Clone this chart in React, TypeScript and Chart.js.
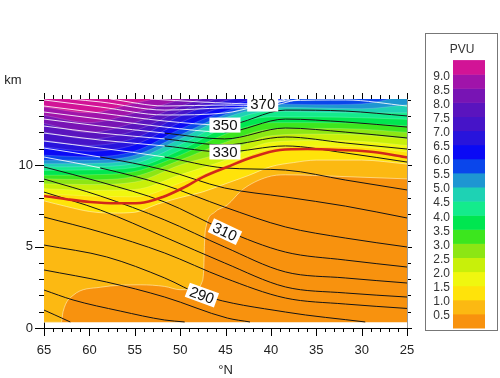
import React, { useEffect, useRef } from 'react';
import { Chart, registerables } from 'chart.js';

Chart.register(...registerables);

const FONT = '"Liberation Sans", Arial, Helvetica, sans-serif';

// ---- axes ----
const xTickValues = [65, 60, 55, 50, 45, 40, 35, 30, 25];
const yTickValues = [0, 5, 10];
const groundKm = 0.35;

// ---- PV colour scale ----
const pvLevels = [0.5, 1.0, 1.5, 2.0, 2.5, 3.0, 3.5, 4.0, 4.5, 5.0, 5.5, 6.0, 6.5, 7.0, 7.5, 8.0, 8.5, 9.0];
const bandColors = [
  '#f8920e', '#fcb912', '#ffe30a', '#f0f70f', '#c8f00a', '#8ce614', '#3ce61e', '#00e650',
  '#14eb8c', '#1ed2b4', '#1e96d2', '#0a46eb', '#0a0af5', '#2814dc', '#4614c8', '#5a14be',
  '#7814b4', '#a014aa', '#d21496',
];

// ---- PV contours (km) ----
const latitudes = [65, 60, 55, 50, 45, 40, 35, 30, 25];
const pv05Lat = [65, 63.1, 62.9, 61.8, 58.8, 54.4, 51.7, 50, 48.5, 47.6, 47.4, 47.35, 47.3, 47.1, 46.2, 44.8, 43.1, 40.4, 38.4, 32.4, 25];
const pv05Km = [0.35, 0.35, 1.0, 2.0, 2.5, 2.65, 2.55, 2.35, 2.35, 2.8, 3.6, 4.5, 5.4, 6.3, 7.1, 7.55, 8.5, 9.26, 9.4, 9.3, 9.15];
const pv10Lat = [65, 62.5, 60, 57.5, 55, 52.5, 50, 47.5, 45, 42.5, 40, 37.5, 35, 30, 25];
const pv10Km = [7.8, 7.45, 7.15, 7.05, 7.1, 7.6, 8.0, 8.35, 8.85, 9.35, 9.9, 10.15, 10.3, 10.3, 10.06];
const pv15 = [8.24, 8.1, 8.05, 8.9, 10.0, 11.0, 11.15, 11.1, 10.8];
const pv20 = [8.55, 8.45, 8.5, 9.4, 10.3, 11.4, 11.5, 11.45, 11.2];
const pv25 = [8.85, 8.8, 8.95, 10.0, 10.8, 11.8, 11.9, 11.85, 11.6];
const pv30 = [9.16, 9.1, 9.3, 10.3, 11.4, 12.2, 12.25, 12.2, 12.0];
const pv35 = [9.37, 9.4, 9.6, 10.6, 11.9, 12.6, 12.6, 12.55, 12.4];
const pv40 = [9.67, 9.7, 9.85, 10.9, 12.3, 12.95, 12.95, 12.9, 12.8];
const pv45 = [9.88, 9.9, 10.1, 11.25, 12.6, 13.3, 13.25, 13.2, 13.2];
const pv50 = [10.08, 10.1, 10.35, 11.6, 12.9, 13.55, 13.5, 13.45, 13.7];
const pv55 = [10.29, 10.3, 10.6, 11.84, 13.1, 13.75, 13.7, 13.75, 14.3];
const pv60 = [10.6, 10.5, 10.85, 12.2, 13.3, 13.95, 14.15, 14.25, 14.6];
const pv65 = [11.1, 10.85, 11.25, 12.6, 13.6, 14.2, 14.5, 14.6, 14.9];
const pv70 = [11.51, 11.2, 11.65, 13.0, 13.95, 14.4, 14.8, 14.9, 15.2];
const pv75 = [12.02, 11.6, 12.1, 13.3, 14.2, 14.7, 15.0, 15.1, 15.4];
const pv80 = [12.55, 12.0, 12.6, 13.6, 14.5, 15.0, 15.2, 15.3, 15.6];
const pv85 = [13.05, 12.6, 13.2, 14.0, 14.8, 15.2, 15.4, 15.5, 15.8];
const pv90 = [13.56, 13.2, 13.8, 14.4, 15.0, 15.4, 15.6, 15.7, 16.0];

// ---- isentropes [lat, km] ----
const th275 = [[65, 1.1], [63.8, 0.8], [62.1, 0.37]];
const th280 = [[65, 2.33], [61.8, 1.72], [56.6, 1.04], [51.7, 0.49], [49.5, 0.37]];
const th285 = [[65, 3.56], [58.1, 2.82], [51.7, 1.9], [44.8, 0.61], [42.3, 0.37]];
const th290 = [[65, 5.09], [58.1, 4.36], [51.7, 3.07], [47.6, 2.02], [38.4, 0.98], [29.6, 0.37]];
const th295 = [[65, 6.81], [58.8, 5.89], [51.7, 4.6], [45.1, 3.07], [38.4, 1.84], [31.8, 1.47], [25, 1.2]];
const th300 = [[65, 8.34], [58.8, 7.24], [51.7, 5.58], [45.1, 3.99], [38.4, 2.52], [31.8, 2.15], [25, 1.9]];
const th305 = [[65, 9.14], [58.8, 8.1], [51.7, 6.63], [45.1, 4.97], [38.4, 3.44], [31.8, 3.07], [25, 2.76]];
const th310 = [[65, 9.88], [58.8, 8.96], [51.7, 7.73], [45.1, 6.01], [38.4, 4.66], [31.8, 4.17], [25, 3.74]];
const th315 = [[65, 10.49], [58.8, 9.82], [51.7, 8.77], [45.1, 7.42], [38.4, 6.2], [31.8, 5.52], [25, 4.97]];
const th320 = [[65, 11.04], [58.8, 10.49], [51.7, 9.69], [45.1, 8.59], [38.4, 8.04], [31.8, 7.48], [25, 6.75]];
const th325 = [[65, 11.47], [58.8, 11.04], [51.7, 10.49], [45.1, 9.82], [38.4, 9.69], [31.8, 9.08], [25, 8.47]];
const th330 = [[65, 11.96], [58.8, 11.53], [51.7, 11.17], [45.1, 10.8], [38.4, 11.17], [31.8, 10.74], [25, 10.18]];
const th335 = [[65, 12.39], [58.8, 11.96], [51.7, 11.6], [45.1, 11.23], [38.4, 11.72], [31.8, 11.35], [25, 10.98]];
const th340 = [[65, 12.82], [58.8, 12.39], [51.7, 11.96], [45.1, 11.6], [38.4, 12.27], [31.8, 12.02], [25, 11.66]];
const th345 = [[65, 13.25], [58.8, 12.82], [51.7, 12.33], [45.1, 12.02], [38.4, 12.82], [31.8, 12.64], [25, 12.33]];
const th350 = [[65, 13.62], [58.8, 13.19], [51.7, 12.7], [45.1, 12.45], [38.4, 13.37], [31.8, 13.31], [25, 13.01]];
const th355 = [[65, 13.99], [58.8, 13.56], [51.7, 13.07], [45.1, 13.19], [38.4, 13.93], [31.8, 13.99], [25, 13.62]];
const th360 = [[62.1, 14.05], [58.8, 13.87], [51.7, 13.37], [45.1, 13.5], [40.9, 13.56], [36.8, 14.05]];
const th365 = [[57.7, 14.05], [51.7, 13.62], [45.1, 13.68], [40.9, 13.65], [37.9, 14.05]];
const th370 = [[53.3, 14.05], [47.8, 13.87], [40.9, 13.74], [38.4, 14.05]];

// ---- tropopause (red) ----
const tropLat = [65, 62.5, 59.9, 57, 54.4, 51.9, 49.7, 47.5, 44.8, 42.0, 39.0, 36.0, 32.4, 28.7, 25];
const tropKm = [8.1, 7.9, 7.73, 7.65, 7.67, 8.04, 8.59, 9.26, 9.88, 10.49, 10.92, 10.98, 10.92, 10.8, 10.47];

// ---- contour labels ----
const labelText = ['370', '350', '330', '310', '290'];
const labelLat = [40.9, 45.06, 45.06, 45.06, 47.6];
const labelKm = [13.74, 12.45, 10.8, 5.91, 2.02];
const labelAngle = [0, 0, 0, 25, 20];

const toXY = (lats: number[], kms: number[]) => lats.map((x, i) => ({ x, y: kms[i] }));
const pairXY = (arr: number[][]) => arr.map(([x, y]) => ({ x, y }));

// height of the 5 PVU surface at a latitude (linear between read values)
const pv5At = (lat: number) => {
  for (let i = 0; i < latitudes.length - 1; i++) {
    const a = latitudes[i], b = latitudes[i + 1];
    if (lat <= a && lat >= b) {
      const t = (a - lat) / (a - b);
      return pv50[i] + t * (pv50[i + 1] - pv50[i]);
    }
  }
  return lat > latitudes[0] ? pv50[0] : pv50[pv50.length - 1];
};

export default function App() {
  const ref = useRef<HTMLCanvasElement | null>(null);

  useEffect(() => {
    if (!ref.current) return;
    const pvContours = [
      toXY(pv05Lat, pv05Km),
      toXY(pv10Lat, pv10Km),
      ...[pv15, pv20, pv25, pv30, pv35, pv40, pv45, pv50, pv55, pv60, pv65, pv70, pv75, pv80, pv85, pv90].map((k) => toXY(latitudes, k)),
    ];
    const isentropes = [th275, th280, th285, th290, th295, th300, th305, th310, th315, th320, th325, th330, th335, th340, th345, th350, th355, th360, th365, th370];

    const datasets: any[] = [];
    datasets.push({
      data: [{ x: 65, y: groundKm }, { x: 25, y: groundKm }],
      showLine: true, fill: 'end', backgroundColor: bandColors[0], borderColor: 'transparent', borderWidth: 0, pointRadius: 0, order: 300,
    });
    pvContours.forEach((d, i) => {
      datasets.push({
        data: d, showLine: true, fill: 'end', backgroundColor: bandColors[i + 1], borderColor: 'transparent', borderWidth: 0,
        pointRadius: 0, cubicInterpolationMode: 'monotone', order: 299 - i,
      });
    });
    pvContours.forEach((d, i) => {
      datasets.push({
        data: d, showLine: true, fill: false,
        borderColor: i < 2 ? 'rgba(255,255,230,0.5)' : 'rgba(255,255,255,0.18)', borderWidth: 1,
        pointRadius: 0, cubicInterpolationMode: 'monotone', order: 100,
      });
    });
    isentropes.forEach((p) => {
      datasets.push({
        data: pairXY(p), showLine: true, fill: false, borderColor: '#151515', borderWidth: 1,
        pointRadius: 0, cubicInterpolationMode: 'monotone', order: 50,
        segment: {
          borderColor: (c: any) => {
            const lat = (c.p0.parsed.x + c.p1.parsed.x) / 2;
            const km = (c.p0.parsed.y + c.p1.parsed.y) / 2;
            return km > pv5At(lat) ? 'rgba(255,255,255,0.85)' : '#151515';
          },
        },
      });
    });
    datasets.push({
      data: toXY(tropLat, tropKm), showLine: true, fill: false, borderColor: '#d2281a', borderWidth: 2.6,
      pointRadius: 0, cubicInterpolationMode: 'monotone', order: 10,
    });

    const overlay = {
      id: 'overlay',
      afterDatasetsDraw(chart: any) {
        const { ctx, scales: { x, y } } = chart;
        ctx.save();
        ctx.font = `15px ${FONT}`;
        labelText.forEach((t, i) => {
          const px = x.getPixelForValue(labelLat[i]);
          const py = y.getPixelForValue(labelKm[i]);
          ctx.save();
          ctx.translate(px, py);
          ctx.rotate((labelAngle[i] * Math.PI) / 180);
          const w = ctx.measureText(t).width + 6;
          const h = 15;
          ctx.fillStyle = '#ffffff';
          ctx.fillRect(-w / 2, -h / 2, w, h);
          ctx.fillStyle = '#111';
          ctx.textAlign = 'center';
          ctx.textBaseline = 'middle';
          ctx.fillText(t, 0, 1);
          ctx.restore();
        });
        ctx.restore();
      },
      afterDraw(chart: any) {
        const { ctx, chartArea: a, scales: { x, y } } = chart;
        ctx.save();
        ctx.strokeStyle = '#000';
        ctx.lineWidth = 1;
        ctx.beginPath();
        for (let v = 25; v <= 65; v++) {
          const px = Math.round(x.getPixelForValue(v)) + 0.5;
          const major = v % 5 === 0;
          ctx.moveTo(px, a.bottom);
          ctx.lineTo(px, a.bottom + (major ? 8 : 4));
          ctx.moveTo(px, a.top);
          ctx.lineTo(px, a.top - (major ? 6 : 4));
        }
        for (let v = 0; v <= 14; v++) {
          const py = Math.round(y.getPixelForValue(v)) + 0.5;
          const major = v % 5 === 0;
          ctx.moveTo(a.left - (major ? 9 : 5), py);
          ctx.lineTo(a.left, py);
          ctx.moveTo(a.right, py);
          ctx.lineTo(a.right + (major ? 5 : 4), py);
        }
        ctx.stroke();
        ctx.strokeStyle = '#999';
        ctx.beginPath();
        ctx.moveTo(Math.round(a.right) + 0.5, a.top);
        ctx.lineTo(Math.round(a.right) + 0.5, a.bottom);
        ctx.stroke();

        ctx.fillStyle = '#222';
        ctx.font = `13px ${FONT}`;
        ctx.textAlign = 'center';
        ctx.textBaseline = 'middle';
        ctx.fillText('km', 13, 80);

        const boxL = 425, boxT = 33, boxR = 497, boxB = 330;
        ctx.strokeStyle = '#777';
        ctx.strokeRect(boxL + 0.5, boxT + 0.5, boxR - boxL, boxB - boxT);
        ctx.fillStyle = '#333';
        ctx.font = `12px ${FONT}`;
        ctx.fillText('PVU', 462, 50);
        const barL = 453, barW = 32, barB = 328;
        const segH = 14.1;
        bandColors.forEach((c, i) => {
          ctx.fillStyle = c;
          ctx.fillRect(barL, barB - (i + 1) * segH, barW, segH + 0.5);
        });
        ctx.fillStyle = '#333';
        ctx.textAlign = 'right';
        pvLevels.forEach((lv, j) => {
          const yy = barB - (j + 1) * segH;
          ctx.fillText(lv.toFixed(1), 450, yy + 2);
        });
        ctx.restore();
      },
    };

    const chart = new Chart(ref.current, {
      type: 'scatter',
      data: { datasets },
      options: {
        animation: false,
        responsive: false,
        devicePixelRatio: 1,
        events: [],
        layout: { padding: { left: 0, top: 99, right: 93, bottom: 0 } },
        elements: { line: { capBezierPoints: false } },
        plugins: { legend: { display: false }, tooltip: { enabled: false } },
        scales: {
          x: {
            type: 'linear', min: 25, max: 65, reverse: true, z: 1,
            afterBuildTicks: (s: any) => { s.ticks = xTickValues.map((v) => ({ value: v })); },
            afterFit: (s: any) => { s.height = 50; },
            ticks: { font: { size: 13, family: FONT }, color: '#222', padding: 15, maxRotation: 0, autoSkip: false },
            grid: { display: false, drawTicks: false },
            border: { display: true, color: '#000', width: 1 },
            title: { display: true, text: '°N', font: { size: 13, family: FONT }, color: '#222', padding: { top: 0, bottom: 0 } },
          },
          y: {
            type: 'linear', min: 0, max: 14.05, z: 1,
            afterBuildTicks: (s: any) => { s.ticks = yTickValues.map((v) => ({ value: v })); },
            afterFit: (s: any) => { s.width = 44; },
            ticks: { font: { size: 13, family: FONT }, color: '#222', padding: 11 },
            grid: { display: false, drawTicks: false },
            border: { display: true, color: '#000', width: 1 },
          },
        },
      },
      plugins: [overlay],
    } as any);
    return () => chart.destroy();
  }, []);

  return (
    <div style={{ position: 'fixed', left: 0, top: 0, width: 500, height: 378, background: '#fff' }}>
      <canvas ref={ref} width={500} height={378} style={{ width: 500, height: 378, display: 'block' }} />
    </div>
  );
}
